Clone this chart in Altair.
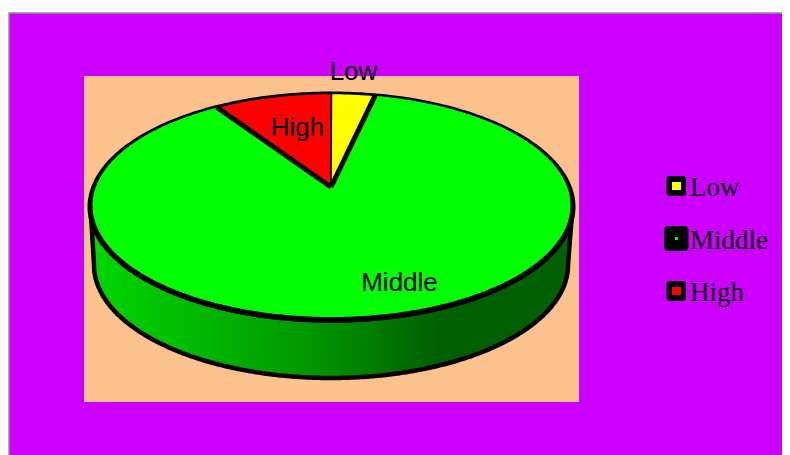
import numpy as np
import pandas as pd
import altair as alt

categories = ["Low", "Middle", "High"]
shares = [2.9, 89.2, 7.9]
colors = ["#ffff00", "#00ff00", "#ff0000"]

W, H = 774, 447
OX, OY = 8, 8

def sc(x, y):
    return np.asarray(x, float) - OX, np.asarray(y, float) - OY

x_enc = lambda: alt.X("x:Q", scale=alt.Scale(domain=[0, W], range=[0, W], nice=False, zero=False), axis=None)
y_enc = lambda: alt.Y("y:Q", scale=alt.Scale(domain=[0, H], range=[0, H], nice=False, zero=False), axis=None)

def poly(xs, ys, fill, stroke=None, sw=0, join="round"):
    px, py = sc(xs, ys)
    df = pd.DataFrame({"x": px, "y": py, "i": np.arange(len(px))})
    kw = dict(fill=fill, strokeJoin=join, clip=False)
    kw["stroke"] = stroke if stroke else "transparent"
    kw["strokeWidth"] = sw
    return alt.Chart(df).mark_line(**kw).encode(x=x_enc(), y=y_enc(), order="i:Q")

def box(x0, x1, y0, y1, fill, stroke=None, sw=0, radius=0):
    a, c = sc([x0, x1], [y0, y1])
    df = pd.DataFrame({"x": [a[0]], "x2": [a[1]], "y": [c[0]], "y2": [c[1]]})
    kw = dict(fill=fill, cornerRadius=radius)
    if stroke:
        kw.update(stroke=stroke, strokeWidth=sw)
    return alt.Chart(df).mark_rect(**kw).encode(x=x_enc(), x2="x2:Q", y=y_enc(), y2="y2:Q")

def label(t, x, y, font, size, align="center"):
    px, py = sc([x], [y])
    df = pd.DataFrame({"x": px, "y": py, "t": [t]})
    return alt.Chart(df).mark_text(font=font, fontSize=size, color="#000000", align=align,
                                   baseline="middle").encode(x=x_enc(), y=y_enc(), text="t:N")

def ell(cx, cy, rx, ry, t0=0.0, t1=360.0, n=360):
    t = np.radians(np.linspace(t0, t1, n))
    return cx + rx * np.sin(t), cy - ry * np.cos(t)

CX, CY, RX, RY = 331.5, 207.0, 241.0, 113.5
AX, AY = 331.0, 187.0
low_end = shares[0] * 3.6
high_start = 360 - shares[2] * 3.6

layers = [box(9, 800, 13, 470, "#cc00ff", "#909090", 1.5)]
layers.append(box(84, 579, 76, 402, "#fcc28e"))

# side wall
bx, by = ell(331, 265, 237, 113, 90, 270)
tx, ty = ell(CX, CY, RX, RY, 270, 90)
grad = alt.Gradient(gradient="linear", x1=0, x2=1, y1=0, y2=0, stops=[
    alt.GradientStop(offset=0, color="#00d800"),
    alt.GradientStop(offset=0.45, color="#009800"),
    alt.GradientStop(offset=0.72, color="#006000"),
    alt.GradientStop(offset=1, color="#006000"),
])
layers.append(poly(np.r_[bx, tx, bx[0]], np.r_[by, ty, by[0]], grad, "#000000", 4.5))

# top face
ox, oy = ell(331.5, 207.0, 244.0, 115.5)
layers.append(poly(ox, oy, "#000000"))
ix, iy = ell(331.5, 205.5, 239.0, 111.5)
layers.append(poly(ix, iy, colors[1]))

# wedges
wx, wy = ell(CX, CY - .5, RX - 1, RY - .5, high_start, 360, 40)
layers.append(poly(np.r_[AX, wx, AX], np.r_[AY, wy, AY], colors[2], "#000000", 1.5))
wx, wy = ell(CX, CY - .5, RX - 1, RY - .5, 0, low_end, 20)
layers.append(poly(np.r_[AX, wx, AX], np.r_[AY, wy, AY], colors[0], "#000000", 1.5))
# slice edges
ex, ey = ell(CX, CY, RX, RY, low_end, low_end, 1)
layers.append(poly([AX, ex[0]], [AY, ey[0]], "transparent", "#000000", 5))
ex, ey = ell(CX, CY, RX, RY, high_start, high_start, 1)
layers.append(poly([AX, ex[0]], [AY, ey[0]], "transparent", "#000000", 5))

layers += [label("Low", 353.5, 72, "Liberation Sans", 26),
           label("High", 297.5, 128, "Liberation Sans", 26),
           label("Middle", 399.5, 283, "Liberation Sans", 26)]

# legend
layers += [box(666.5, 686, 176, 196, "#000000", radius=3), box(672, 681, 182, 190, colors[0])]
layers += [box(664, 688.5, 226, 251, "#000000", radius=4), box(675, 678, 237, 240, colors[1])]
layers += [box(666.5, 686, 281, 301, "#000000", radius=3), box(672, 681, 287, 295, colors[2])]
for name, y in zip(categories, [188, 241, 293]):
    layers.append(label(name, 690, y, "Liberation Serif", 27, "left"))

chart = alt.layer(*layers).resolve_scale(x="shared", y="shared").properties(
    width=W, height=H, padding=0, background="#ffffff",
    autosize=alt.AutoSizeParams(type="none"),
).configure_view(stroke=None)

chart.save("out.html", embed_options={"renderer": "svg", "actions": False})
